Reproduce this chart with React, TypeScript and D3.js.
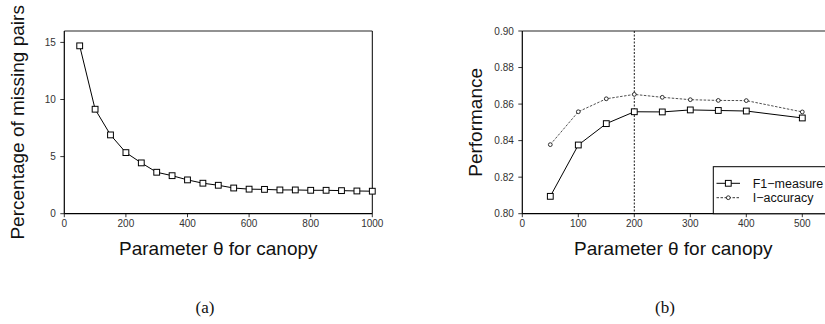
import * as d3 from 'd3';
import { useEffect, useRef } from 'react';

// (a) percentage of missing pairs vs canopy parameter
const thetaA = [50, 100, 150, 200, 250, 300, 350, 400, 450, 500, 550, 600, 650, 700, 750, 800, 850, 900, 950, 1000];
const missingPct = [14.7, 9.15, 6.9, 5.35, 4.45, 3.63, 3.33, 2.96, 2.67, 2.49, 2.25, 2.15, 2.13, 2.08, 2.08, 2.05, 2.05, 2.02, 1.99, 1.97];
const ticksA_x = [0, 200, 400, 600, 800, 1000];
const ticksA_y = [0, 5, 10, 15];

// (b) performance vs canopy parameter
const thetaB = [50, 100, 150, 200, 250, 300, 350, 400, 500];
const f1Measure = [0.8095, 0.8376, 0.8493, 0.8558, 0.8557, 0.8568, 0.8565, 0.8562, 0.8524];
const iAccuracy = [0.8378, 0.8558, 0.8629, 0.8653, 0.8637, 0.8624, 0.862, 0.8619, 0.8557];
const ticksB_x = [0, 100, 200, 300, 400, 500];
const ticksB_y = [0.8, 0.82, 0.84, 0.86, 0.88, 0.9];
const chosenTheta = 200;
const legendLabels = ['F1\u2212measure', 'I\u2212accuracy'];

const sans = '"Liberation Sans", Arial, Helvetica, sans-serif';

const App = () => {
  const ref = useRef<SVGSVGElement | null>(null);

  useEffect(() => {
    const svg = d3.select(ref.current!);
    svg.selectAll('*').remove();

    const top = 31, bottom = 213.7, plotW = 308;

    function frame(g: any, x: any, y: any, xTicks: number[], yTicks: number[], yFmt: (v: number) => string, left: number, right: number) {
      // box
      g.append('line').attr('x1', left).attr('x2', right).attr('y1', top).attr('y2', top)
        .attr('stroke', '#6e6e6e').attr('stroke-width', 1.5);
      g.append('line').attr('x1', right).attr('x2', right).attr('y1', top).attr('y2', bottom)
        .attr('stroke', '#000').attr('stroke-width', 1);
      g.append('line').attr('x1', left).attr('x2', left).attr('y1', top).attr('y2', bottom)
        .attr('stroke', '#000').attr('stroke-width', 1.2);
      g.append('line').attr('x1', left).attr('x2', right).attr('y1', bottom).attr('y2', bottom)
        .attr('stroke', '#000').attr('stroke-width', 1.2);

      xTicks.forEach(t => {
        g.append('line').attr('x1', x(t)).attr('x2', x(t)).attr('y1', bottom).attr('y2', bottom + 3.5)
          .attr('stroke', '#000').attr('stroke-width', 0.8);
        g.append('text').attr('x', x(t)).attr('y', bottom + 13.5).attr('text-anchor', 'middle')
          .attr('font-family', sans).attr('font-size', 10).attr('fill', '#333').text(String(t));
      });
      yTicks.forEach(t => {
        g.append('line').attr('x1', left - 4).attr('x2', left).attr('y1', y(t)).attr('y2', y(t))
          .attr('stroke', '#000').attr('stroke-width', 0.8);
        g.append('text').attr('x', left - 8.5).attr('y', y(t) + 3.5).attr('text-anchor', 'end')
          .attr('font-family', sans).attr('font-size', 10).attr('fill', '#333').text(yFmt(t));
      });
    }

    // ---------- panel (a)
    const leftA = 64.3;
    const xA = d3.scaleLinear().domain([0, 1000]).range([leftA, leftA + plotW]);
    const yA = d3.scaleLinear().domain([0, 16]).range([bottom, top]);
    const gA = svg.append('g');
    frame(gA, xA, yA, ticksA_x, ticksA_y, v => String(v), leftA, leftA + plotW);

    const lineA = d3.line<number>().x((d, i) => xA(thetaA[i])).y(d => yA(d));
    gA.append('path').datum(missingPct).attr('d', lineA)
      .attr('fill', 'none').attr('stroke', '#000').attr('stroke-width', 1);
    gA.selectAll('.sq').data(missingPct).enter().append('rect')
      .attr('x', (d, i) => xA(thetaA[i]) - 2.9).attr('y', d => yA(d) - 2.9)
      .attr('width', 5.8).attr('height', 5.8)
      .attr('fill', '#fff').attr('stroke', '#000').attr('stroke-width', 1);

    gA.append('text').attr('x', leftA + plotW / 2).attr('y', 255).attr('text-anchor', 'middle')
      .attr('font-family', sans).attr('font-size', 19).attr('fill', '#111').text('Parameter \u03b8 for canopy');
    gA.append('text').attr('transform', `translate(24,${(top + bottom) / 2}) rotate(-90)`)
      .attr('text-anchor', 'middle').attr('font-family', sans).attr('font-size', 19).attr('fill', '#111')
      .text('Percentage of missing pairs');

    // ---------- panel (b)
    const leftB = 522.3;
    const xB = d3.scaleLinear().domain([0, 550]).range([leftB, leftB + plotW]);
    const yB = d3.scaleLinear().domain([0.8, 0.9]).range([bottom, top]);
    const gB = svg.append('g');
    frame(gB, xB, yB, ticksB_x, ticksB_y, v => v.toFixed(2), leftB, leftB + plotW);

    gB.append('line').attr('x1', xB(chosenTheta)).attr('x2', xB(chosenTheta)).attr('y1', top).attr('y2', bottom)
      .attr('stroke', '#000').attr('stroke-width', 0.9).attr('stroke-dasharray', '2,1.5');

    const lineB = d3.line<number>().x((d, i) => xB(thetaB[i])).y(d => yB(d));
    gB.append('path').datum(iAccuracy).attr('d', lineB)
      .attr('fill', 'none').attr('stroke', '#222').attr('stroke-width', 0.8).attr('stroke-dasharray', '2.5,1.5');
    gB.selectAll('.ci').data(iAccuracy).enter().append('circle')
      .attr('cx', (d, i) => xB(thetaB[i])).attr('cy', d => yB(d)).attr('r', 1.9)
      .attr('fill', '#fff').attr('stroke', '#000').attr('stroke-width', 0.8);

    gB.append('path').datum(f1Measure).attr('d', lineB)
      .attr('fill', 'none').attr('stroke', '#000').attr('stroke-width', 1);
    gB.selectAll('.sq').data(f1Measure).enter().append('rect')
      .attr('x', (d, i) => xB(thetaB[i]) - 2.9).attr('y', d => yB(d) - 2.9)
      .attr('width', 5.8).attr('height', 5.8)
      .attr('fill', '#fff').attr('stroke', '#000').attr('stroke-width', 1);

    // legend
    const lg = gB.append('g');
    lg.append('rect').attr('x', 713.3).attr('y', 166.7).attr('width', 140).attr('height', bottom - 166.7)
      .attr('fill', '#fff').attr('stroke', '#000').attr('stroke-width', 1);
    const rowY = [183.3, 197.7];
    legendLabels.forEach((lab, i) => {
      lg.append('line').attr('x1', 716.5).attr('x2', 740).attr('y1', rowY[i]).attr('y2', rowY[i])
        .attr('stroke', '#000').attr('stroke-width', i === 0 ? 1 : 0.8)
        .attr('stroke-dasharray', i === 0 ? null : '2.5,1.5');
      if (i === 0) {
        lg.append('rect').attr('x', 728.3 - 2.9).attr('y', rowY[i] - 2.9).attr('width', 5.8).attr('height', 5.8)
          .attr('fill', '#fff').attr('stroke', '#000').attr('stroke-width', 1);
      } else {
        lg.append('circle').attr('cx', 728.3).attr('cy', rowY[i]).attr('r', 1.9)
          .attr('fill', '#fff').attr('stroke', '#000').attr('stroke-width', 0.8);
      }
      lg.append('text').attr('x', 752.7).attr('y', rowY[i] + 4.5)
        .attr('font-family', sans).attr('font-size', 12.5).attr('fill', '#111').text(lab);
    });

    gB.append('text').attr('x', leftB + plotW / 2 - 3).attr('y', 255).attr('text-anchor', 'middle')
      .attr('font-family', sans).attr('font-size', 19).attr('fill', '#111').text('Parameter \u03b8 for canopy');
    gB.append('text').attr('transform', `translate(482,${(top + bottom) / 2}) rotate(-90)`)
      .attr('text-anchor', 'middle').attr('font-family', sans).attr('font-size', 19).attr('fill', '#111')
      .text('Performance');

    // captions
    const serif = '"Latin Modern Roman", "DejaVu Serif", "Liberation Serif", serif';
    svg.append('text').attr('x', 205).attr('y', 313).attr('text-anchor', 'middle')
      .attr('font-family', '"Liberation Serif", serif').attr('font-size', 17).attr('fill', '#111').text('(a)');
    svg.append('text').attr('x', 665).attr('y', 313).attr('text-anchor', 'middle')
      .attr('font-family', '"Liberation Serif", serif').attr('font-size', 17).attr('fill', '#111').text('(b)');
    void serif;
  }, []);

  return (
    <svg ref={ref} width={825} height={324}
      style={{ position: 'absolute', left: 0, top: 0, background: '#fff' }} />
  );
};

export default App;
